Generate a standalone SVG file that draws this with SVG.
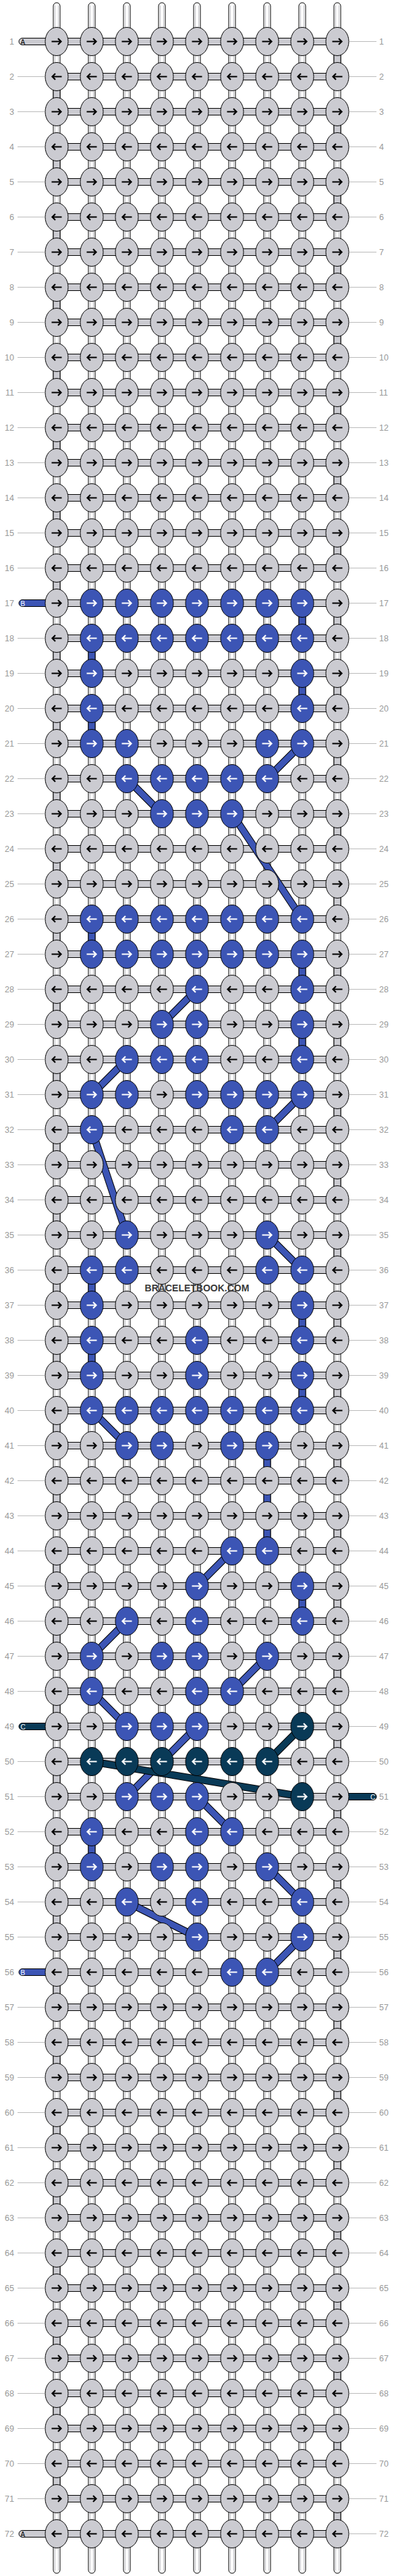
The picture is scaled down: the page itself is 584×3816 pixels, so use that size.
<svg xmlns="http://www.w3.org/2000/svg" xmlns:xlink="http://www.w3.org/1999/xlink" width="584" height="3816" viewBox="0 0 584 3816">
<style>
.g{fill:#cbcbd1;stroke:#000;stroke-width:1}
.b{fill:#3c55b5;stroke:#000;stroke-width:1}
.t{fill:#093a57;stroke:#000;stroke-width:1}
.ak{fill:none;stroke:#000;stroke-width:2.2}
.aw{fill:none;stroke:#fff;stroke-width:2.2}
.bs{fill:#fff;stroke:#000;stroke-width:1}
.bi{fill:none;stroke:#bdbdc2;stroke-width:1}
.hb{fill:#cbcbd1;stroke:#000;stroke-width:1}
.ol{stroke:#000;stroke-width:11;fill:none}
.bl{stroke:#3c55b5;stroke-width:9;fill:none}
.tl{stroke:#093a57;stroke-width:9;fill:none}
.lbl{font-family:"Liberation Sans",Arial,sans-serif;font-size:12.5px;fill:#999}
.le{text-anchor:end}
.ll{stroke:#bbb;stroke-width:1;fill:none}
.sl{font-family:"Liberation Sans",Arial,sans-serif;font-size:10px}
.wm{font-family:"Liberation Sans",Arial,sans-serif;font-size:14px;font-weight:bold;fill:#3a3a3a;text-anchor:middle}
</style>
<defs>
<path id="ar" d="M-7.5,0H6.5M2,-4.5L6.5,0L2,4.5"/>
<path id="al" d="M7.5,0H-6.5M-2,-4.5L-6.5,0L-2,4.5"/>
<g id="gr"><ellipse class="g" rx="17" ry="21"/><use href="#ar" class="ak"/></g>
<g id="gl"><ellipse class="g" rx="17" ry="21"/><use href="#al" class="ak"/></g>
<g id="br"><ellipse class="b" rx="17" ry="21"/><use href="#ar" class="aw"/></g>
<g id="bl"><ellipse class="b" rx="17" ry="21"/><use href="#al" class="aw"/></g>
<g id="tr"><ellipse class="t" rx="17" ry="21"/><use href="#ar" class="aw"/></g>
<g id="tl"><ellipse class="t" rx="17" ry="21"/><use href="#al" class="aw"/></g>
<g id="vs"><path class="bs" d="M-5,9a5,5 0 0 1 10,0V3807a5,5 0 0 1 -10,0Z"/><path class="bi" d="M-2.5,8V3808M2.5,8V3808"/></g>
<path id="bpath" d="M448,893.5V945.5M136,945.5V997.5M448,997.5V1049.5M136,1049.5V1101.5M448,1101.5L396,1153.5M188,1153.5L240,1205.5M344,1205.5L448,1361.5M136,1361.5V1413.5M448,1413.5V1465.5M292,1465.5L240,1517.5M448,1517.5V1569.5M188,1569.5L136,1621.5M448,1621.5L396,1673.5M136,1673.5L188,1829.5M396,1829.5L448,1881.5M136,1881.5V1933.5M448,1933.5V1985.5M136,1985.5V2037.5M448,2037.5V2089.5M136,2089.5L188,2141.5M396,2141.5V2297.5M344,2297.5L292,2349.5M448,2349.5V2401.5M188,2401.5L136,2453.5M396,2453.5L344,2505.5M136,2505.5L188,2557.5M292,2557.5L188,2661.5M292,2661.5L344,2713.5M136,2713.5V2765.5M396,2765.5L448,2817.5M188,2817.5L292,2869.5M448,2869.5L396,2921.5"/>
<path id="cpath" d="M448,2557.5L396,2609.5M136,2609.5L448,2661.5"/>
</defs>
<rect width="584" height="3816" fill="#fff"/>
<g id="connectors">
<g id="base-strings">
<use href="#vs" x="84"/><use href="#vs" x="136"/><use href="#vs" x="188"/><use href="#vs" x="240"/><use href="#vs" x="292"/><use href="#vs" x="344"/><use href="#vs" x="396"/><use href="#vs" x="448"/><use href="#vs" x="500"/>
</g>
<path id="row-bars" class="hb" d="M84,56.5h416v10H84zM84,108.5h416v10H84zM84,160.5h416v10H84zM84,212.5h416v10H84zM84,264.5h416v10H84zM84,316.5h416v10H84zM84,368.5h416v10H84zM84,420.5h416v10H84zM84,472.5h416v10H84zM84,524.5h416v10H84zM84,576.5h416v10H84zM84,628.5h416v10H84zM84,680.5h416v10H84zM84,732.5h416v10H84zM84,784.5h416v10H84zM84,836.5h416v10H84zM84,888.5h416v10H84zM84,940.5h416v10H84zM84,992.5h416v10H84zM84,1044.5h416v10H84zM84,1096.5h416v10H84zM84,1148.5h416v10H84zM84,1200.5h416v10H84zM84,1252.5h416v10H84zM84,1304.5h416v10H84zM84,1356.5h416v10H84zM84,1408.5h416v10H84zM84,1460.5h416v10H84zM84,1512.5h416v10H84zM84,1564.5h416v10H84zM84,1616.5h416v10H84zM84,1668.5h416v10H84zM84,1720.5h416v10H84zM84,1772.5h416v10H84zM84,1824.5h416v10H84zM84,1876.5h416v10H84zM84,1928.5h416v10H84zM84,1980.5h416v10H84zM84,2032.5h416v10H84zM84,2084.5h416v10H84zM84,2136.5h416v10H84zM84,2188.5h416v10H84zM84,2240.5h416v10H84zM84,2292.5h416v10H84zM84,2344.5h416v10H84zM84,2396.5h416v10H84zM84,2448.5h416v10H84zM84,2500.5h416v10H84zM84,2552.5h416v10H84zM84,2604.5h416v10H84zM84,2656.5h416v10H84zM84,2708.5h416v10H84zM84,2760.5h416v10H84zM84,2812.5h416v10H84zM84,2864.5h416v10H84zM84,2916.5h416v10H84zM84,2968.5h416v10H84zM84,3020.5h416v10H84zM84,3072.5h416v10H84zM84,3124.5h416v10H84zM84,3176.5h416v10H84zM84,3228.5h416v10H84zM84,3280.5h416v10H84zM84,3332.5h416v10H84zM84,3384.5h416v10H84zM84,3436.5h416v10H84zM84,3488.5h416v10H84zM84,3540.5h416v10H84zM84,3592.5h416v10H84zM84,3644.5h416v10H84zM84,3696.5h416v10H84zM84,3748.5h416v10H84z"/>
<path id="turns" class="hb" d="M495,61.5h10v52h-10zM79,113.5h10v52h-10zM495,165.5h10v52h-10zM79,217.5h10v52h-10zM495,269.5h10v52h-10zM79,321.5h10v52h-10zM495,373.5h10v52h-10zM79,425.5h10v52h-10zM495,477.5h10v52h-10zM79,529.5h10v52h-10zM495,581.5h10v52h-10zM79,633.5h10v52h-10zM495,685.5h10v52h-10zM79,737.5h10v52h-10zM495,789.5h10v52h-10zM79,841.5h10v52h-10zM495,893.5h10v52h-10zM79,945.5h10v52h-10zM495,997.5h10v52h-10zM79,1049.5h10v52h-10zM495,1101.5h10v52h-10zM79,1153.5h10v52h-10zM495,1205.5h10v52h-10zM79,1257.5h10v52h-10zM495,1309.5h10v52h-10zM79,1361.5h10v52h-10zM495,1413.5h10v52h-10zM79,1465.5h10v52h-10zM495,1517.5h10v52h-10zM79,1569.5h10v52h-10zM495,1621.5h10v52h-10zM79,1673.5h10v52h-10zM495,1725.5h10v52h-10zM79,1777.5h10v52h-10zM495,1829.5h10v52h-10zM79,1881.5h10v52h-10zM495,1933.5h10v52h-10zM79,1985.5h10v52h-10zM495,2037.5h10v52h-10zM79,2089.5h10v52h-10zM495,2141.5h10v52h-10zM79,2193.5h10v52h-10zM495,2245.5h10v52h-10zM79,2297.5h10v52h-10zM495,2349.5h10v52h-10zM79,2401.5h10v52h-10zM495,2453.5h10v52h-10zM79,2505.5h10v52h-10zM495,2557.5h10v52h-10zM79,2609.5h10v52h-10zM495,2661.5h10v52h-10zM79,2713.5h10v52h-10zM495,2765.5h10v52h-10zM79,2817.5h10v52h-10zM495,2869.5h10v52h-10zM79,2921.5h10v52h-10zM495,2973.5h10v52h-10zM79,3025.5h10v52h-10zM495,3077.5h10v52h-10zM79,3129.5h10v52h-10zM495,3181.5h10v52h-10zM79,3233.5h10v52h-10zM495,3285.5h10v52h-10zM79,3337.5h10v52h-10zM495,3389.5h10v52h-10zM79,3441.5h10v52h-10zM495,3493.5h10v52h-10zM79,3545.5h10v52h-10zM495,3597.5h10v52h-10zM79,3649.5h10v52h-10zM495,3701.5h10v52h-10z"/>
<g id="string-b">
<use href="#bpath" class="ol"/>
<use href="#bpath" class="bl"/>
</g>
<g id="string-c">
<use href="#cpath" class="ol"/>
<use href="#cpath" class="tl"/>
</g>
<g id="stubs">
<path class="hb" d="M72,56.5H33a5,5 0 0 0 0,10H72z"/><text class="sl" x="30.5" y="65.5" fill="#000">A</text>
<path class="hb" d="M72,3748.5H33a5,5 0 0 0 0,10H72z"/><text class="sl" x="30.5" y="3757.5" fill="#000">A</text>
<path class="b" d="M72,888.5H33a5,5 0 0 0 0,10H72z"/><text class="sl" x="30.5" y="897.5" fill="#fff">B</text>
<path class="b" d="M72,2916.5H33a5,5 0 0 0 0,10H72z"/><text class="sl" x="30.5" y="2925.5" fill="#fff">B</text>
<path class="t" d="M72,2552.5H33a5,5 0 0 0 0,10H72z"/><text class="sl" x="30.5" y="2561.5" fill="#fff">C</text>
<path class="t" d="M512,2656.5H553a5,5 0 0 1 0,10H512z"/><text class="sl" x="549" y="2665.5" fill="#fff">C</text>
</g>
</g>
<g id="nodes">
<g id="r1" transform="translate(0 61.5)"><g id="n1-1"><use href="#gr" x="84"/></g><g id="n1-2"><use href="#gr" x="136"/></g><g id="n1-3"><use href="#gr" x="188"/></g><g id="n1-4"><use href="#gr" x="240"/></g><g id="n1-5"><use href="#gr" x="292"/></g><g id="n1-6"><use href="#gr" x="344"/></g><g id="n1-7"><use href="#gr" x="396"/></g><g id="n1-8"><use href="#gr" x="448"/></g><g id="n1-9"><use href="#gr" x="500"/></g></g>
<g id="r2" transform="translate(0 113.5)"><g id="n2-1"><use href="#gl" x="84"/></g><g id="n2-2"><use href="#gl" x="136"/></g><g id="n2-3"><use href="#gl" x="188"/></g><g id="n2-4"><use href="#gl" x="240"/></g><g id="n2-5"><use href="#gl" x="292"/></g><g id="n2-6"><use href="#gl" x="344"/></g><g id="n2-7"><use href="#gl" x="396"/></g><g id="n2-8"><use href="#gl" x="448"/></g><g id="n2-9"><use href="#gl" x="500"/></g></g>
<g id="r3" transform="translate(0 165.5)"><g id="n3-1"><use href="#gr" x="84"/></g><g id="n3-2"><use href="#gr" x="136"/></g><g id="n3-3"><use href="#gr" x="188"/></g><g id="n3-4"><use href="#gr" x="240"/></g><g id="n3-5"><use href="#gr" x="292"/></g><g id="n3-6"><use href="#gr" x="344"/></g><g id="n3-7"><use href="#gr" x="396"/></g><g id="n3-8"><use href="#gr" x="448"/></g><g id="n3-9"><use href="#gr" x="500"/></g></g>
<g id="r4" transform="translate(0 217.5)"><g id="n4-1"><use href="#gl" x="84"/></g><g id="n4-2"><use href="#gl" x="136"/></g><g id="n4-3"><use href="#gl" x="188"/></g><g id="n4-4"><use href="#gl" x="240"/></g><g id="n4-5"><use href="#gl" x="292"/></g><g id="n4-6"><use href="#gl" x="344"/></g><g id="n4-7"><use href="#gl" x="396"/></g><g id="n4-8"><use href="#gl" x="448"/></g><g id="n4-9"><use href="#gl" x="500"/></g></g>
<g id="r5" transform="translate(0 269.5)"><g id="n5-1"><use href="#gr" x="84"/></g><g id="n5-2"><use href="#gr" x="136"/></g><g id="n5-3"><use href="#gr" x="188"/></g><g id="n5-4"><use href="#gr" x="240"/></g><g id="n5-5"><use href="#gr" x="292"/></g><g id="n5-6"><use href="#gr" x="344"/></g><g id="n5-7"><use href="#gr" x="396"/></g><g id="n5-8"><use href="#gr" x="448"/></g><g id="n5-9"><use href="#gr" x="500"/></g></g>
<g id="r6" transform="translate(0 321.5)"><g id="n6-1"><use href="#gl" x="84"/></g><g id="n6-2"><use href="#gl" x="136"/></g><g id="n6-3"><use href="#gl" x="188"/></g><g id="n6-4"><use href="#gl" x="240"/></g><g id="n6-5"><use href="#gl" x="292"/></g><g id="n6-6"><use href="#gl" x="344"/></g><g id="n6-7"><use href="#gl" x="396"/></g><g id="n6-8"><use href="#gl" x="448"/></g><g id="n6-9"><use href="#gl" x="500"/></g></g>
<g id="r7" transform="translate(0 373.5)"><g id="n7-1"><use href="#gr" x="84"/></g><g id="n7-2"><use href="#gr" x="136"/></g><g id="n7-3"><use href="#gr" x="188"/></g><g id="n7-4"><use href="#gr" x="240"/></g><g id="n7-5"><use href="#gr" x="292"/></g><g id="n7-6"><use href="#gr" x="344"/></g><g id="n7-7"><use href="#gr" x="396"/></g><g id="n7-8"><use href="#gr" x="448"/></g><g id="n7-9"><use href="#gr" x="500"/></g></g>
<g id="r8" transform="translate(0 425.5)"><g id="n8-1"><use href="#gl" x="84"/></g><g id="n8-2"><use href="#gl" x="136"/></g><g id="n8-3"><use href="#gl" x="188"/></g><g id="n8-4"><use href="#gl" x="240"/></g><g id="n8-5"><use href="#gl" x="292"/></g><g id="n8-6"><use href="#gl" x="344"/></g><g id="n8-7"><use href="#gl" x="396"/></g><g id="n8-8"><use href="#gl" x="448"/></g><g id="n8-9"><use href="#gl" x="500"/></g></g>
<g id="r9" transform="translate(0 477.5)"><g id="n9-1"><use href="#gr" x="84"/></g><g id="n9-2"><use href="#gr" x="136"/></g><g id="n9-3"><use href="#gr" x="188"/></g><g id="n9-4"><use href="#gr" x="240"/></g><g id="n9-5"><use href="#gr" x="292"/></g><g id="n9-6"><use href="#gr" x="344"/></g><g id="n9-7"><use href="#gr" x="396"/></g><g id="n9-8"><use href="#gr" x="448"/></g><g id="n9-9"><use href="#gr" x="500"/></g></g>
<g id="r10" transform="translate(0 529.5)"><g id="n10-1"><use href="#gl" x="84"/></g><g id="n10-2"><use href="#gl" x="136"/></g><g id="n10-3"><use href="#gl" x="188"/></g><g id="n10-4"><use href="#gl" x="240"/></g><g id="n10-5"><use href="#gl" x="292"/></g><g id="n10-6"><use href="#gl" x="344"/></g><g id="n10-7"><use href="#gl" x="396"/></g><g id="n10-8"><use href="#gl" x="448"/></g><g id="n10-9"><use href="#gl" x="500"/></g></g>
<g id="r11" transform="translate(0 581.5)"><g id="n11-1"><use href="#gr" x="84"/></g><g id="n11-2"><use href="#gr" x="136"/></g><g id="n11-3"><use href="#gr" x="188"/></g><g id="n11-4"><use href="#gr" x="240"/></g><g id="n11-5"><use href="#gr" x="292"/></g><g id="n11-6"><use href="#gr" x="344"/></g><g id="n11-7"><use href="#gr" x="396"/></g><g id="n11-8"><use href="#gr" x="448"/></g><g id="n11-9"><use href="#gr" x="500"/></g></g>
<g id="r12" transform="translate(0 633.5)"><g id="n12-1"><use href="#gl" x="84"/></g><g id="n12-2"><use href="#gl" x="136"/></g><g id="n12-3"><use href="#gl" x="188"/></g><g id="n12-4"><use href="#gl" x="240"/></g><g id="n12-5"><use href="#gl" x="292"/></g><g id="n12-6"><use href="#gl" x="344"/></g><g id="n12-7"><use href="#gl" x="396"/></g><g id="n12-8"><use href="#gl" x="448"/></g><g id="n12-9"><use href="#gl" x="500"/></g></g>
<g id="r13" transform="translate(0 685.5)"><g id="n13-1"><use href="#gr" x="84"/></g><g id="n13-2"><use href="#gr" x="136"/></g><g id="n13-3"><use href="#gr" x="188"/></g><g id="n13-4"><use href="#gr" x="240"/></g><g id="n13-5"><use href="#gr" x="292"/></g><g id="n13-6"><use href="#gr" x="344"/></g><g id="n13-7"><use href="#gr" x="396"/></g><g id="n13-8"><use href="#gr" x="448"/></g><g id="n13-9"><use href="#gr" x="500"/></g></g>
<g id="r14" transform="translate(0 737.5)"><g id="n14-1"><use href="#gl" x="84"/></g><g id="n14-2"><use href="#gl" x="136"/></g><g id="n14-3"><use href="#gl" x="188"/></g><g id="n14-4"><use href="#gl" x="240"/></g><g id="n14-5"><use href="#gl" x="292"/></g><g id="n14-6"><use href="#gl" x="344"/></g><g id="n14-7"><use href="#gl" x="396"/></g><g id="n14-8"><use href="#gl" x="448"/></g><g id="n14-9"><use href="#gl" x="500"/></g></g>
<g id="r15" transform="translate(0 789.5)"><g id="n15-1"><use href="#gr" x="84"/></g><g id="n15-2"><use href="#gr" x="136"/></g><g id="n15-3"><use href="#gr" x="188"/></g><g id="n15-4"><use href="#gr" x="240"/></g><g id="n15-5"><use href="#gr" x="292"/></g><g id="n15-6"><use href="#gr" x="344"/></g><g id="n15-7"><use href="#gr" x="396"/></g><g id="n15-8"><use href="#gr" x="448"/></g><g id="n15-9"><use href="#gr" x="500"/></g></g>
<g id="r16" transform="translate(0 841.5)"><g id="n16-1"><use href="#gl" x="84"/></g><g id="n16-2"><use href="#gl" x="136"/></g><g id="n16-3"><use href="#gl" x="188"/></g><g id="n16-4"><use href="#gl" x="240"/></g><g id="n16-5"><use href="#gl" x="292"/></g><g id="n16-6"><use href="#gl" x="344"/></g><g id="n16-7"><use href="#gl" x="396"/></g><g id="n16-8"><use href="#gl" x="448"/></g><g id="n16-9"><use href="#gl" x="500"/></g></g>
<g id="r17" transform="translate(0 893.5)"><g id="n17-1"><use href="#gr" x="84"/></g><g id="n17-2"><use href="#br" x="136"/></g><g id="n17-3"><use href="#br" x="188"/></g><g id="n17-4"><use href="#br" x="240"/></g><g id="n17-5"><use href="#br" x="292"/></g><g id="n17-6"><use href="#br" x="344"/></g><g id="n17-7"><use href="#br" x="396"/></g><g id="n17-8"><use href="#br" x="448"/></g><g id="n17-9"><use href="#gr" x="500"/></g></g>
<g id="r18" transform="translate(0 945.5)"><g id="n18-1"><use href="#gl" x="84"/></g><g id="n18-2"><use href="#bl" x="136"/></g><g id="n18-3"><use href="#bl" x="188"/></g><g id="n18-4"><use href="#bl" x="240"/></g><g id="n18-5"><use href="#bl" x="292"/></g><g id="n18-6"><use href="#bl" x="344"/></g><g id="n18-7"><use href="#bl" x="396"/></g><g id="n18-8"><use href="#bl" x="448"/></g><g id="n18-9"><use href="#gl" x="500"/></g></g>
<g id="r19" transform="translate(0 997.5)"><g id="n19-1"><use href="#gr" x="84"/></g><g id="n19-2"><use href="#br" x="136"/></g><g id="n19-3"><use href="#gr" x="188"/></g><g id="n19-4"><use href="#gr" x="240"/></g><g id="n19-5"><use href="#gr" x="292"/></g><g id="n19-6"><use href="#gr" x="344"/></g><g id="n19-7"><use href="#gr" x="396"/></g><g id="n19-8"><use href="#br" x="448"/></g><g id="n19-9"><use href="#gr" x="500"/></g></g>
<g id="r20" transform="translate(0 1049.5)"><g id="n20-1"><use href="#gl" x="84"/></g><g id="n20-2"><use href="#bl" x="136"/></g><g id="n20-3"><use href="#gl" x="188"/></g><g id="n20-4"><use href="#gl" x="240"/></g><g id="n20-5"><use href="#gl" x="292"/></g><g id="n20-6"><use href="#gl" x="344"/></g><g id="n20-7"><use href="#gl" x="396"/></g><g id="n20-8"><use href="#bl" x="448"/></g><g id="n20-9"><use href="#gl" x="500"/></g></g>
<g id="r21" transform="translate(0 1101.5)"><g id="n21-1"><use href="#gr" x="84"/></g><g id="n21-2"><use href="#br" x="136"/></g><g id="n21-3"><use href="#br" x="188"/></g><g id="n21-4"><use href="#gr" x="240"/></g><g id="n21-5"><use href="#gr" x="292"/></g><g id="n21-6"><use href="#gr" x="344"/></g><g id="n21-7"><use href="#br" x="396"/></g><g id="n21-8"><use href="#br" x="448"/></g><g id="n21-9"><use href="#gr" x="500"/></g></g>
<g id="r22" transform="translate(0 1153.5)"><g id="n22-1"><use href="#gl" x="84"/></g><g id="n22-2"><use href="#gl" x="136"/></g><g id="n22-3"><use href="#bl" x="188"/></g><g id="n22-4"><use href="#bl" x="240"/></g><g id="n22-5"><use href="#bl" x="292"/></g><g id="n22-6"><use href="#bl" x="344"/></g><g id="n22-7"><use href="#bl" x="396"/></g><g id="n22-8"><use href="#gl" x="448"/></g><g id="n22-9"><use href="#gl" x="500"/></g></g>
<g id="r23" transform="translate(0 1205.5)"><g id="n23-1"><use href="#gr" x="84"/></g><g id="n23-2"><use href="#gr" x="136"/></g><g id="n23-3"><use href="#gr" x="188"/></g><g id="n23-4"><use href="#br" x="240"/></g><g id="n23-5"><use href="#br" x="292"/></g><g id="n23-6"><use href="#br" x="344"/></g><g id="n23-7"><use href="#gr" x="396"/></g><g id="n23-8"><use href="#gr" x="448"/></g><g id="n23-9"><use href="#gr" x="500"/></g></g>
<g id="r24" transform="translate(0 1257.5)"><g id="n24-1"><use href="#gl" x="84"/></g><g id="n24-2"><use href="#gl" x="136"/></g><g id="n24-3"><use href="#gl" x="188"/></g><g id="n24-4"><use href="#gl" x="240"/></g><g id="n24-5"><use href="#gl" x="292"/></g><g id="n24-6"><use href="#gl" x="344"/></g><g id="n24-7"><use href="#gl" x="396"/></g><g id="n24-8"><use href="#gl" x="448"/></g><g id="n24-9"><use href="#gl" x="500"/></g></g>
<g id="r25" transform="translate(0 1309.5)"><g id="n25-1"><use href="#gr" x="84"/></g><g id="n25-2"><use href="#gr" x="136"/></g><g id="n25-3"><use href="#gr" x="188"/></g><g id="n25-4"><use href="#gr" x="240"/></g><g id="n25-5"><use href="#gr" x="292"/></g><g id="n25-6"><use href="#gr" x="344"/></g><g id="n25-7"><use href="#gr" x="396"/></g><g id="n25-8"><use href="#gr" x="448"/></g><g id="n25-9"><use href="#gr" x="500"/></g></g>
<g id="r26" transform="translate(0 1361.5)"><g id="n26-1"><use href="#gl" x="84"/></g><g id="n26-2"><use href="#bl" x="136"/></g><g id="n26-3"><use href="#bl" x="188"/></g><g id="n26-4"><use href="#bl" x="240"/></g><g id="n26-5"><use href="#bl" x="292"/></g><g id="n26-6"><use href="#bl" x="344"/></g><g id="n26-7"><use href="#bl" x="396"/></g><g id="n26-8"><use href="#bl" x="448"/></g><g id="n26-9"><use href="#gl" x="500"/></g></g>
<g id="r27" transform="translate(0 1413.5)"><g id="n27-1"><use href="#gr" x="84"/></g><g id="n27-2"><use href="#br" x="136"/></g><g id="n27-3"><use href="#br" x="188"/></g><g id="n27-4"><use href="#br" x="240"/></g><g id="n27-5"><use href="#br" x="292"/></g><g id="n27-6"><use href="#br" x="344"/></g><g id="n27-7"><use href="#br" x="396"/></g><g id="n27-8"><use href="#br" x="448"/></g><g id="n27-9"><use href="#gr" x="500"/></g></g>
<g id="r28" transform="translate(0 1465.5)"><g id="n28-1"><use href="#gl" x="84"/></g><g id="n28-2"><use href="#gl" x="136"/></g><g id="n28-3"><use href="#gl" x="188"/></g><g id="n28-4"><use href="#gl" x="240"/></g><g id="n28-5"><use href="#bl" x="292"/></g><g id="n28-6"><use href="#gl" x="344"/></g><g id="n28-7"><use href="#gl" x="396"/></g><g id="n28-8"><use href="#bl" x="448"/></g><g id="n28-9"><use href="#gl" x="500"/></g></g>
<g id="r29" transform="translate(0 1517.5)"><g id="n29-1"><use href="#gr" x="84"/></g><g id="n29-2"><use href="#gr" x="136"/></g><g id="n29-3"><use href="#gr" x="188"/></g><g id="n29-4"><use href="#br" x="240"/></g><g id="n29-5"><use href="#br" x="292"/></g><g id="n29-6"><use href="#gr" x="344"/></g><g id="n29-7"><use href="#gr" x="396"/></g><g id="n29-8"><use href="#br" x="448"/></g><g id="n29-9"><use href="#gr" x="500"/></g></g>
<g id="r30" transform="translate(0 1569.5)"><g id="n30-1"><use href="#gl" x="84"/></g><g id="n30-2"><use href="#gl" x="136"/></g><g id="n30-3"><use href="#bl" x="188"/></g><g id="n30-4"><use href="#bl" x="240"/></g><g id="n30-5"><use href="#bl" x="292"/></g><g id="n30-6"><use href="#gl" x="344"/></g><g id="n30-7"><use href="#gl" x="396"/></g><g id="n30-8"><use href="#bl" x="448"/></g><g id="n30-9"><use href="#gl" x="500"/></g></g>
<g id="r31" transform="translate(0 1621.5)"><g id="n31-1"><use href="#gr" x="84"/></g><g id="n31-2"><use href="#br" x="136"/></g><g id="n31-3"><use href="#br" x="188"/></g><g id="n31-4"><use href="#gr" x="240"/></g><g id="n31-5"><use href="#br" x="292"/></g><g id="n31-6"><use href="#br" x="344"/></g><g id="n31-7"><use href="#br" x="396"/></g><g id="n31-8"><use href="#br" x="448"/></g><g id="n31-9"><use href="#gr" x="500"/></g></g>
<g id="r32" transform="translate(0 1673.5)"><g id="n32-1"><use href="#gl" x="84"/></g><g id="n32-2"><use href="#bl" x="136"/></g><g id="n32-3"><use href="#gl" x="188"/></g><g id="n32-4"><use href="#gl" x="240"/></g><g id="n32-5"><use href="#gl" x="292"/></g><g id="n32-6"><use href="#bl" x="344"/></g><g id="n32-7"><use href="#bl" x="396"/></g><g id="n32-8"><use href="#gl" x="448"/></g><g id="n32-9"><use href="#gl" x="500"/></g></g>
<g id="r33" transform="translate(0 1725.5)"><g id="n33-1"><use href="#gr" x="84"/></g><g id="n33-2"><use href="#gr" x="136"/></g><g id="n33-3"><use href="#gr" x="188"/></g><g id="n33-4"><use href="#gr" x="240"/></g><g id="n33-5"><use href="#gr" x="292"/></g><g id="n33-6"><use href="#gr" x="344"/></g><g id="n33-7"><use href="#gr" x="396"/></g><g id="n33-8"><use href="#gr" x="448"/></g><g id="n33-9"><use href="#gr" x="500"/></g></g>
<g id="r34" transform="translate(0 1777.5)"><g id="n34-1"><use href="#gl" x="84"/></g><g id="n34-2"><use href="#gl" x="136"/></g><g id="n34-3"><use href="#gl" x="188"/></g><g id="n34-4"><use href="#gl" x="240"/></g><g id="n34-5"><use href="#gl" x="292"/></g><g id="n34-6"><use href="#gl" x="344"/></g><g id="n34-7"><use href="#gl" x="396"/></g><g id="n34-8"><use href="#gl" x="448"/></g><g id="n34-9"><use href="#gl" x="500"/></g></g>
<g id="r35" transform="translate(0 1829.5)"><g id="n35-1"><use href="#gr" x="84"/></g><g id="n35-2"><use href="#gr" x="136"/></g><g id="n35-3"><use href="#br" x="188"/></g><g id="n35-4"><use href="#gr" x="240"/></g><g id="n35-5"><use href="#gr" x="292"/></g><g id="n35-6"><use href="#gr" x="344"/></g><g id="n35-7"><use href="#br" x="396"/></g><g id="n35-8"><use href="#gr" x="448"/></g><g id="n35-9"><use href="#gr" x="500"/></g></g>
<g id="r36" transform="translate(0 1881.5)"><g id="n36-1"><use href="#gl" x="84"/></g><g id="n36-2"><use href="#bl" x="136"/></g><g id="n36-3"><use href="#bl" x="188"/></g><g id="n36-4"><use href="#gl" x="240"/></g><g id="n36-5"><use href="#gl" x="292"/></g><g id="n36-6"><use href="#gl" x="344"/></g><g id="n36-7"><use href="#bl" x="396"/></g><g id="n36-8"><use href="#bl" x="448"/></g><g id="n36-9"><use href="#gl" x="500"/></g></g>
<g id="r37" transform="translate(0 1933.5)"><g id="n37-1"><use href="#gr" x="84"/></g><g id="n37-2"><use href="#br" x="136"/></g><g id="n37-3"><use href="#gr" x="188"/></g><g id="n37-4"><use href="#gr" x="240"/></g><g id="n37-5"><use href="#gr" x="292"/></g><g id="n37-6"><use href="#gr" x="344"/></g><g id="n37-7"><use href="#gr" x="396"/></g><g id="n37-8"><use href="#br" x="448"/></g><g id="n37-9"><use href="#gr" x="500"/></g></g>
<g id="r38" transform="translate(0 1985.5)"><g id="n38-1"><use href="#gl" x="84"/></g><g id="n38-2"><use href="#bl" x="136"/></g><g id="n38-3"><use href="#gl" x="188"/></g><g id="n38-4"><use href="#gl" x="240"/></g><g id="n38-5"><use href="#bl" x="292"/></g><g id="n38-6"><use href="#gl" x="344"/></g><g id="n38-7"><use href="#gl" x="396"/></g><g id="n38-8"><use href="#bl" x="448"/></g><g id="n38-9"><use href="#gl" x="500"/></g></g>
<g id="r39" transform="translate(0 2037.5)"><g id="n39-1"><use href="#gr" x="84"/></g><g id="n39-2"><use href="#br" x="136"/></g><g id="n39-3"><use href="#gr" x="188"/></g><g id="n39-4"><use href="#gr" x="240"/></g><g id="n39-5"><use href="#br" x="292"/></g><g id="n39-6"><use href="#gr" x="344"/></g><g id="n39-7"><use href="#gr" x="396"/></g><g id="n39-8"><use href="#br" x="448"/></g><g id="n39-9"><use href="#gr" x="500"/></g></g>
<g id="r40" transform="translate(0 2089.5)"><g id="n40-1"><use href="#gl" x="84"/></g><g id="n40-2"><use href="#bl" x="136"/></g><g id="n40-3"><use href="#bl" x="188"/></g><g id="n40-4"><use href="#bl" x="240"/></g><g id="n40-5"><use href="#bl" x="292"/></g><g id="n40-6"><use href="#bl" x="344"/></g><g id="n40-7"><use href="#bl" x="396"/></g><g id="n40-8"><use href="#bl" x="448"/></g><g id="n40-9"><use href="#gl" x="500"/></g></g>
<g id="r41" transform="translate(0 2141.5)"><g id="n41-1"><use href="#gr" x="84"/></g><g id="n41-2"><use href="#gr" x="136"/></g><g id="n41-3"><use href="#br" x="188"/></g><g id="n41-4"><use href="#br" x="240"/></g><g id="n41-5"><use href="#gr" x="292"/></g><g id="n41-6"><use href="#br" x="344"/></g><g id="n41-7"><use href="#br" x="396"/></g><g id="n41-8"><use href="#gr" x="448"/></g><g id="n41-9"><use href="#gr" x="500"/></g></g>
<g id="r42" transform="translate(0 2193.5)"><g id="n42-1"><use href="#gl" x="84"/></g><g id="n42-2"><use href="#gl" x="136"/></g><g id="n42-3"><use href="#gl" x="188"/></g><g id="n42-4"><use href="#gl" x="240"/></g><g id="n42-5"><use href="#gl" x="292"/></g><g id="n42-6"><use href="#gl" x="344"/></g><g id="n42-7"><use href="#gl" x="396"/></g><g id="n42-8"><use href="#gl" x="448"/></g><g id="n42-9"><use href="#gl" x="500"/></g></g>
<g id="r43" transform="translate(0 2245.5)"><g id="n43-1"><use href="#gr" x="84"/></g><g id="n43-2"><use href="#gr" x="136"/></g><g id="n43-3"><use href="#gr" x="188"/></g><g id="n43-4"><use href="#gr" x="240"/></g><g id="n43-5"><use href="#gr" x="292"/></g><g id="n43-6"><use href="#gr" x="344"/></g><g id="n43-7"><use href="#gr" x="396"/></g><g id="n43-8"><use href="#gr" x="448"/></g><g id="n43-9"><use href="#gr" x="500"/></g></g>
<g id="r44" transform="translate(0 2297.5)"><g id="n44-1"><use href="#gl" x="84"/></g><g id="n44-2"><use href="#gl" x="136"/></g><g id="n44-3"><use href="#gl" x="188"/></g><g id="n44-4"><use href="#gl" x="240"/></g><g id="n44-5"><use href="#gl" x="292"/></g><g id="n44-6"><use href="#bl" x="344"/></g><g id="n44-7"><use href="#bl" x="396"/></g><g id="n44-8"><use href="#gl" x="448"/></g><g id="n44-9"><use href="#gl" x="500"/></g></g>
<g id="r45" transform="translate(0 2349.5)"><g id="n45-1"><use href="#gr" x="84"/></g><g id="n45-2"><use href="#gr" x="136"/></g><g id="n45-3"><use href="#gr" x="188"/></g><g id="n45-4"><use href="#gr" x="240"/></g><g id="n45-5"><use href="#br" x="292"/></g><g id="n45-6"><use href="#gr" x="344"/></g><g id="n45-7"><use href="#gr" x="396"/></g><g id="n45-8"><use href="#br" x="448"/></g><g id="n45-9"><use href="#gr" x="500"/></g></g>
<g id="r46" transform="translate(0 2401.5)"><g id="n46-1"><use href="#gl" x="84"/></g><g id="n46-2"><use href="#gl" x="136"/></g><g id="n46-3"><use href="#bl" x="188"/></g><g id="n46-4"><use href="#gl" x="240"/></g><g id="n46-5"><use href="#bl" x="292"/></g><g id="n46-6"><use href="#gl" x="344"/></g><g id="n46-7"><use href="#gl" x="396"/></g><g id="n46-8"><use href="#bl" x="448"/></g><g id="n46-9"><use href="#gl" x="500"/></g></g>
<g id="r47" transform="translate(0 2453.5)"><g id="n47-1"><use href="#gr" x="84"/></g><g id="n47-2"><use href="#br" x="136"/></g><g id="n47-3"><use href="#gr" x="188"/></g><g id="n47-4"><use href="#br" x="240"/></g><g id="n47-5"><use href="#br" x="292"/></g><g id="n47-6"><use href="#gr" x="344"/></g><g id="n47-7"><use href="#br" x="396"/></g><g id="n47-8"><use href="#gr" x="448"/></g><g id="n47-9"><use href="#gr" x="500"/></g></g>
<g id="r48" transform="translate(0 2505.5)"><g id="n48-1"><use href="#gl" x="84"/></g><g id="n48-2"><use href="#bl" x="136"/></g><g id="n48-3"><use href="#gl" x="188"/></g><g id="n48-4"><use href="#gl" x="240"/></g><g id="n48-5"><use href="#bl" x="292"/></g><g id="n48-6"><use href="#bl" x="344"/></g><g id="n48-7"><use href="#gl" x="396"/></g><g id="n48-8"><use href="#gl" x="448"/></g><g id="n48-9"><use href="#gl" x="500"/></g></g>
<g id="r49" transform="translate(0 2557.5)"><g id="n49-1"><use href="#gr" x="84"/></g><g id="n49-2"><use href="#gr" x="136"/></g><g id="n49-3"><use href="#br" x="188"/></g><g id="n49-4"><use href="#br" x="240"/></g><g id="n49-5"><use href="#br" x="292"/></g><g id="n49-6"><use href="#gr" x="344"/></g><g id="n49-7"><use href="#gr" x="396"/></g><g id="n49-8"><use href="#tr" x="448"/></g><g id="n49-9"><use href="#gr" x="500"/></g></g>
<g id="r50" transform="translate(0 2609.5)"><g id="n50-1"><use href="#gl" x="84"/></g><g id="n50-2"><use href="#tl" x="136"/></g><g id="n50-3"><use href="#tl" x="188"/></g><g id="n50-4"><use href="#tl" x="240"/></g><g id="n50-5"><use href="#tl" x="292"/></g><g id="n50-6"><use href="#tl" x="344"/></g><g id="n50-7"><use href="#tl" x="396"/></g><g id="n50-8"><use href="#gl" x="448"/></g><g id="n50-9"><use href="#gl" x="500"/></g></g>
<g id="r51" transform="translate(0 2661.5)"><g id="n51-1"><use href="#gr" x="84"/></g><g id="n51-2"><use href="#gr" x="136"/></g><g id="n51-3"><use href="#br" x="188"/></g><g id="n51-4"><use href="#br" x="240"/></g><g id="n51-5"><use href="#br" x="292"/></g><g id="n51-6"><use href="#gr" x="344"/></g><g id="n51-7"><use href="#gr" x="396"/></g><g id="n51-8"><use href="#tr" x="448"/></g><g id="n51-9"><use href="#gr" x="500"/></g></g>
<g id="r52" transform="translate(0 2713.5)"><g id="n52-1"><use href="#gl" x="84"/></g><g id="n52-2"><use href="#bl" x="136"/></g><g id="n52-3"><use href="#gl" x="188"/></g><g id="n52-4"><use href="#gl" x="240"/></g><g id="n52-5"><use href="#bl" x="292"/></g><g id="n52-6"><use href="#bl" x="344"/></g><g id="n52-7"><use href="#gl" x="396"/></g><g id="n52-8"><use href="#gl" x="448"/></g><g id="n52-9"><use href="#gl" x="500"/></g></g>
<g id="r53" transform="translate(0 2765.5)"><g id="n53-1"><use href="#gr" x="84"/></g><g id="n53-2"><use href="#br" x="136"/></g><g id="n53-3"><use href="#gr" x="188"/></g><g id="n53-4"><use href="#br" x="240"/></g><g id="n53-5"><use href="#br" x="292"/></g><g id="n53-6"><use href="#gr" x="344"/></g><g id="n53-7"><use href="#br" x="396"/></g><g id="n53-8"><use href="#gr" x="448"/></g><g id="n53-9"><use href="#gr" x="500"/></g></g>
<g id="r54" transform="translate(0 2817.5)"><g id="n54-1"><use href="#gl" x="84"/></g><g id="n54-2"><use href="#gl" x="136"/></g><g id="n54-3"><use href="#bl" x="188"/></g><g id="n54-4"><use href="#gl" x="240"/></g><g id="n54-5"><use href="#bl" x="292"/></g><g id="n54-6"><use href="#gl" x="344"/></g><g id="n54-7"><use href="#gl" x="396"/></g><g id="n54-8"><use href="#bl" x="448"/></g><g id="n54-9"><use href="#gl" x="500"/></g></g>
<g id="r55" transform="translate(0 2869.5)"><g id="n55-1"><use href="#gr" x="84"/></g><g id="n55-2"><use href="#gr" x="136"/></g><g id="n55-3"><use href="#gr" x="188"/></g><g id="n55-4"><use href="#gr" x="240"/></g><g id="n55-5"><use href="#br" x="292"/></g><g id="n55-6"><use href="#gr" x="344"/></g><g id="n55-7"><use href="#gr" x="396"/></g><g id="n55-8"><use href="#br" x="448"/></g><g id="n55-9"><use href="#gr" x="500"/></g></g>
<g id="r56" transform="translate(0 2921.5)"><g id="n56-1"><use href="#gl" x="84"/></g><g id="n56-2"><use href="#gl" x="136"/></g><g id="n56-3"><use href="#gl" x="188"/></g><g id="n56-4"><use href="#gl" x="240"/></g><g id="n56-5"><use href="#gl" x="292"/></g><g id="n56-6"><use href="#bl" x="344"/></g><g id="n56-7"><use href="#bl" x="396"/></g><g id="n56-8"><use href="#gl" x="448"/></g><g id="n56-9"><use href="#gl" x="500"/></g></g>
<g id="r57" transform="translate(0 2973.5)"><g id="n57-1"><use href="#gr" x="84"/></g><g id="n57-2"><use href="#gr" x="136"/></g><g id="n57-3"><use href="#gr" x="188"/></g><g id="n57-4"><use href="#gr" x="240"/></g><g id="n57-5"><use href="#gr" x="292"/></g><g id="n57-6"><use href="#gr" x="344"/></g><g id="n57-7"><use href="#gr" x="396"/></g><g id="n57-8"><use href="#gr" x="448"/></g><g id="n57-9"><use href="#gr" x="500"/></g></g>
<g id="r58" transform="translate(0 3025.5)"><g id="n58-1"><use href="#gl" x="84"/></g><g id="n58-2"><use href="#gl" x="136"/></g><g id="n58-3"><use href="#gl" x="188"/></g><g id="n58-4"><use href="#gl" x="240"/></g><g id="n58-5"><use href="#gl" x="292"/></g><g id="n58-6"><use href="#gl" x="344"/></g><g id="n58-7"><use href="#gl" x="396"/></g><g id="n58-8"><use href="#gl" x="448"/></g><g id="n58-9"><use href="#gl" x="500"/></g></g>
<g id="r59" transform="translate(0 3077.5)"><g id="n59-1"><use href="#gr" x="84"/></g><g id="n59-2"><use href="#gr" x="136"/></g><g id="n59-3"><use href="#gr" x="188"/></g><g id="n59-4"><use href="#gr" x="240"/></g><g id="n59-5"><use href="#gr" x="292"/></g><g id="n59-6"><use href="#gr" x="344"/></g><g id="n59-7"><use href="#gr" x="396"/></g><g id="n59-8"><use href="#gr" x="448"/></g><g id="n59-9"><use href="#gr" x="500"/></g></g>
<g id="r60" transform="translate(0 3129.5)"><g id="n60-1"><use href="#gl" x="84"/></g><g id="n60-2"><use href="#gl" x="136"/></g><g id="n60-3"><use href="#gl" x="188"/></g><g id="n60-4"><use href="#gl" x="240"/></g><g id="n60-5"><use href="#gl" x="292"/></g><g id="n60-6"><use href="#gl" x="344"/></g><g id="n60-7"><use href="#gl" x="396"/></g><g id="n60-8"><use href="#gl" x="448"/></g><g id="n60-9"><use href="#gl" x="500"/></g></g>
<g id="r61" transform="translate(0 3181.5)"><g id="n61-1"><use href="#gr" x="84"/></g><g id="n61-2"><use href="#gr" x="136"/></g><g id="n61-3"><use href="#gr" x="188"/></g><g id="n61-4"><use href="#gr" x="240"/></g><g id="n61-5"><use href="#gr" x="292"/></g><g id="n61-6"><use href="#gr" x="344"/></g><g id="n61-7"><use href="#gr" x="396"/></g><g id="n61-8"><use href="#gr" x="448"/></g><g id="n61-9"><use href="#gr" x="500"/></g></g>
<g id="r62" transform="translate(0 3233.5)"><g id="n62-1"><use href="#gl" x="84"/></g><g id="n62-2"><use href="#gl" x="136"/></g><g id="n62-3"><use href="#gl" x="188"/></g><g id="n62-4"><use href="#gl" x="240"/></g><g id="n62-5"><use href="#gl" x="292"/></g><g id="n62-6"><use href="#gl" x="344"/></g><g id="n62-7"><use href="#gl" x="396"/></g><g id="n62-8"><use href="#gl" x="448"/></g><g id="n62-9"><use href="#gl" x="500"/></g></g>
<g id="r63" transform="translate(0 3285.5)"><g id="n63-1"><use href="#gr" x="84"/></g><g id="n63-2"><use href="#gr" x="136"/></g><g id="n63-3"><use href="#gr" x="188"/></g><g id="n63-4"><use href="#gr" x="240"/></g><g id="n63-5"><use href="#gr" x="292"/></g><g id="n63-6"><use href="#gr" x="344"/></g><g id="n63-7"><use href="#gr" x="396"/></g><g id="n63-8"><use href="#gr" x="448"/></g><g id="n63-9"><use href="#gr" x="500"/></g></g>
<g id="r64" transform="translate(0 3337.5)"><g id="n64-1"><use href="#gl" x="84"/></g><g id="n64-2"><use href="#gl" x="136"/></g><g id="n64-3"><use href="#gl" x="188"/></g><g id="n64-4"><use href="#gl" x="240"/></g><g id="n64-5"><use href="#gl" x="292"/></g><g id="n64-6"><use href="#gl" x="344"/></g><g id="n64-7"><use href="#gl" x="396"/></g><g id="n64-8"><use href="#gl" x="448"/></g><g id="n64-9"><use href="#gl" x="500"/></g></g>
<g id="r65" transform="translate(0 3389.5)"><g id="n65-1"><use href="#gr" x="84"/></g><g id="n65-2"><use href="#gr" x="136"/></g><g id="n65-3"><use href="#gr" x="188"/></g><g id="n65-4"><use href="#gr" x="240"/></g><g id="n65-5"><use href="#gr" x="292"/></g><g id="n65-6"><use href="#gr" x="344"/></g><g id="n65-7"><use href="#gr" x="396"/></g><g id="n65-8"><use href="#gr" x="448"/></g><g id="n65-9"><use href="#gr" x="500"/></g></g>
<g id="r66" transform="translate(0 3441.5)"><g id="n66-1"><use href="#gl" x="84"/></g><g id="n66-2"><use href="#gl" x="136"/></g><g id="n66-3"><use href="#gl" x="188"/></g><g id="n66-4"><use href="#gl" x="240"/></g><g id="n66-5"><use href="#gl" x="292"/></g><g id="n66-6"><use href="#gl" x="344"/></g><g id="n66-7"><use href="#gl" x="396"/></g><g id="n66-8"><use href="#gl" x="448"/></g><g id="n66-9"><use href="#gl" x="500"/></g></g>
<g id="r67" transform="translate(0 3493.5)"><g id="n67-1"><use href="#gr" x="84"/></g><g id="n67-2"><use href="#gr" x="136"/></g><g id="n67-3"><use href="#gr" x="188"/></g><g id="n67-4"><use href="#gr" x="240"/></g><g id="n67-5"><use href="#gr" x="292"/></g><g id="n67-6"><use href="#gr" x="344"/></g><g id="n67-7"><use href="#gr" x="396"/></g><g id="n67-8"><use href="#gr" x="448"/></g><g id="n67-9"><use href="#gr" x="500"/></g></g>
<g id="r68" transform="translate(0 3545.5)"><g id="n68-1"><use href="#gl" x="84"/></g><g id="n68-2"><use href="#gl" x="136"/></g><g id="n68-3"><use href="#gl" x="188"/></g><g id="n68-4"><use href="#gl" x="240"/></g><g id="n68-5"><use href="#gl" x="292"/></g><g id="n68-6"><use href="#gl" x="344"/></g><g id="n68-7"><use href="#gl" x="396"/></g><g id="n68-8"><use href="#gl" x="448"/></g><g id="n68-9"><use href="#gl" x="500"/></g></g>
<g id="r69" transform="translate(0 3597.5)"><g id="n69-1"><use href="#gr" x="84"/></g><g id="n69-2"><use href="#gr" x="136"/></g><g id="n69-3"><use href="#gr" x="188"/></g><g id="n69-4"><use href="#gr" x="240"/></g><g id="n69-5"><use href="#gr" x="292"/></g><g id="n69-6"><use href="#gr" x="344"/></g><g id="n69-7"><use href="#gr" x="396"/></g><g id="n69-8"><use href="#gr" x="448"/></g><g id="n69-9"><use href="#gr" x="500"/></g></g>
<g id="r70" transform="translate(0 3649.5)"><g id="n70-1"><use href="#gl" x="84"/></g><g id="n70-2"><use href="#gl" x="136"/></g><g id="n70-3"><use href="#gl" x="188"/></g><g id="n70-4"><use href="#gl" x="240"/></g><g id="n70-5"><use href="#gl" x="292"/></g><g id="n70-6"><use href="#gl" x="344"/></g><g id="n70-7"><use href="#gl" x="396"/></g><g id="n70-8"><use href="#gl" x="448"/></g><g id="n70-9"><use href="#gl" x="500"/></g></g>
<g id="r71" transform="translate(0 3701.5)"><g id="n71-1"><use href="#gr" x="84"/></g><g id="n71-2"><use href="#gr" x="136"/></g><g id="n71-3"><use href="#gr" x="188"/></g><g id="n71-4"><use href="#gr" x="240"/></g><g id="n71-5"><use href="#gr" x="292"/></g><g id="n71-6"><use href="#gr" x="344"/></g><g id="n71-7"><use href="#gr" x="396"/></g><g id="n71-8"><use href="#gr" x="448"/></g><g id="n71-9"><use href="#gr" x="500"/></g></g>
<g id="r72" transform="translate(0 3753.5)"><g id="n72-1"><use href="#gl" x="84"/></g><g id="n72-2"><use href="#gl" x="136"/></g><g id="n72-3"><use href="#gl" x="188"/></g><g id="n72-4"><use href="#gl" x="240"/></g><g id="n72-5"><use href="#gl" x="292"/></g><g id="n72-6"><use href="#gl" x="344"/></g><g id="n72-7"><use href="#gl" x="396"/></g><g id="n72-8"><use href="#gl" x="448"/></g><g id="n72-9"><use href="#gl" x="500"/></g></g>
</g>
<g id="row-labels">
<path class="ll" d="M26,113.5H66M26,165.5H66M26,217.5H66M26,269.5H66M26,321.5H66M26,373.5H66M26,425.5H66M26,477.5H66M26,529.5H66M26,581.5H66M26,633.5H66M26,685.5H66M26,737.5H66M26,789.5H66M26,841.5H66M26,945.5H66M26,997.5H66M26,1049.5H66M26,1101.5H66M26,1153.5H66M26,1205.5H66M26,1257.5H66M26,1309.5H66M26,1361.5H66M26,1413.5H66M26,1465.5H66M26,1517.5H66M26,1569.5H66M26,1621.5H66M26,1673.5H66M26,1725.5H66M26,1777.5H66M26,1829.5H66M26,1881.5H66M26,1933.5H66M26,1985.5H66M26,2037.5H66M26,2089.5H66M26,2141.5H66M26,2193.5H66M26,2245.5H66M26,2297.5H66M26,2349.5H66M26,2401.5H66M26,2453.5H66M26,2505.5H66M26,2609.5H66M26,2661.5H66M26,2713.5H66M26,2765.5H66M26,2817.5H66M26,2869.5H66M26,2973.5H66M26,3025.5H66M26,3077.5H66M26,3129.5H66M26,3181.5H66M26,3233.5H66M26,3285.5H66M26,3337.5H66M26,3389.5H66M26,3441.5H66M26,3493.5H66M26,3545.5H66M26,3597.5H66M26,3649.5H66M26,3701.5H66"/>
<path class="ll" d="M518,61.5H558M518,113.5H558M518,165.5H558M518,217.5H558M518,269.5H558M518,321.5H558M518,373.5H558M518,425.5H558M518,477.5H558M518,529.5H558M518,581.5H558M518,633.5H558M518,685.5H558M518,737.5H558M518,789.5H558M518,841.5H558M518,893.5H558M518,945.5H558M518,997.5H558M518,1049.5H558M518,1101.5H558M518,1153.5H558M518,1205.5H558M518,1257.5H558M518,1309.5H558M518,1361.5H558M518,1413.5H558M518,1465.5H558M518,1517.5H558M518,1569.5H558M518,1621.5H558M518,1673.5H558M518,1725.5H558M518,1777.5H558M518,1829.5H558M518,1881.5H558M518,1933.5H558M518,1985.5H558M518,2037.5H558M518,2089.5H558M518,2141.5H558M518,2193.5H558M518,2245.5H558M518,2297.5H558M518,2349.5H558M518,2401.5H558M518,2453.5H558M518,2505.5H558M518,2557.5H558M518,2609.5H558M518,2713.5H558M518,2765.5H558M518,2817.5H558M518,2869.5H558M518,2921.5H558M518,2973.5H558M518,3025.5H558M518,3077.5H558M518,3129.5H558M518,3181.5H558M518,3233.5H558M518,3285.5H558M518,3337.5H558M518,3389.5H558M518,3441.5H558M518,3493.5H558M518,3545.5H558M518,3597.5H558M518,3649.5H558M518,3701.5H558M518,3753.5H558"/>
<g class="lbl le">
<text x="21" y="66">1</text><text x="21" y="118">2</text><text x="21" y="170">3</text><text x="21" y="222">4</text><text x="21" y="274">5</text><text x="21" y="326">6</text><text x="21" y="378">7</text><text x="21" y="430">8</text><text x="21" y="482">9</text><text x="21" y="534">10</text><text x="21" y="586">11</text><text x="21" y="638">12</text><text x="21" y="690">13</text><text x="21" y="742">14</text><text x="21" y="794">15</text><text x="21" y="846">16</text><text x="21" y="898">17</text><text x="21" y="950">18</text><text x="21" y="1002">19</text><text x="21" y="1054">20</text><text x="21" y="1106">21</text><text x="21" y="1158">22</text><text x="21" y="1210">23</text><text x="21" y="1262">24</text><text x="21" y="1314">25</text><text x="21" y="1366">26</text><text x="21" y="1418">27</text><text x="21" y="1470">28</text><text x="21" y="1522">29</text><text x="21" y="1574">30</text><text x="21" y="1626">31</text><text x="21" y="1678">32</text><text x="21" y="1730">33</text><text x="21" y="1782">34</text><text x="21" y="1834">35</text><text x="21" y="1886">36</text><text x="21" y="1938">37</text><text x="21" y="1990">38</text><text x="21" y="2042">39</text><text x="21" y="2094">40</text><text x="21" y="2146">41</text><text x="21" y="2198">42</text><text x="21" y="2250">43</text><text x="21" y="2302">44</text><text x="21" y="2354">45</text><text x="21" y="2406">46</text><text x="21" y="2458">47</text><text x="21" y="2510">48</text><text x="21" y="2562">49</text><text x="21" y="2614">50</text><text x="21" y="2666">51</text><text x="21" y="2718">52</text><text x="21" y="2770">53</text><text x="21" y="2822">54</text><text x="21" y="2874">55</text><text x="21" y="2926">56</text><text x="21" y="2978">57</text><text x="21" y="3030">58</text><text x="21" y="3082">59</text><text x="21" y="3134">60</text><text x="21" y="3186">61</text><text x="21" y="3238">62</text><text x="21" y="3290">63</text><text x="21" y="3342">64</text><text x="21" y="3394">65</text><text x="21" y="3446">66</text><text x="21" y="3498">67</text><text x="21" y="3550">68</text><text x="21" y="3602">69</text><text x="21" y="3654">70</text><text x="21" y="3706">71</text><text x="21" y="3758">72</text>
</g>
<g class="lbl">
<text x="562" y="66">1</text><text x="562" y="118">2</text><text x="562" y="170">3</text><text x="562" y="222">4</text><text x="562" y="274">5</text><text x="562" y="326">6</text><text x="562" y="378">7</text><text x="562" y="430">8</text><text x="562" y="482">9</text><text x="562" y="534">10</text><text x="562" y="586">11</text><text x="562" y="638">12</text><text x="562" y="690">13</text><text x="562" y="742">14</text><text x="562" y="794">15</text><text x="562" y="846">16</text><text x="562" y="898">17</text><text x="562" y="950">18</text><text x="562" y="1002">19</text><text x="562" y="1054">20</text><text x="562" y="1106">21</text><text x="562" y="1158">22</text><text x="562" y="1210">23</text><text x="562" y="1262">24</text><text x="562" y="1314">25</text><text x="562" y="1366">26</text><text x="562" y="1418">27</text><text x="562" y="1470">28</text><text x="562" y="1522">29</text><text x="562" y="1574">30</text><text x="562" y="1626">31</text><text x="562" y="1678">32</text><text x="562" y="1730">33</text><text x="562" y="1782">34</text><text x="562" y="1834">35</text><text x="562" y="1886">36</text><text x="562" y="1938">37</text><text x="562" y="1990">38</text><text x="562" y="2042">39</text><text x="562" y="2094">40</text><text x="562" y="2146">41</text><text x="562" y="2198">42</text><text x="562" y="2250">43</text><text x="562" y="2302">44</text><text x="562" y="2354">45</text><text x="562" y="2406">46</text><text x="562" y="2458">47</text><text x="562" y="2510">48</text><text x="562" y="2562">49</text><text x="562" y="2614">50</text><text x="562" y="2666">51</text><text x="562" y="2718">52</text><text x="562" y="2770">53</text><text x="562" y="2822">54</text><text x="562" y="2874">55</text><text x="562" y="2926">56</text><text x="562" y="2978">57</text><text x="562" y="3030">58</text><text x="562" y="3082">59</text><text x="562" y="3134">60</text><text x="562" y="3186">61</text><text x="562" y="3238">62</text><text x="562" y="3290">63</text><text x="562" y="3342">64</text><text x="562" y="3394">65</text><text x="562" y="3446">66</text><text x="562" y="3498">67</text><text x="562" y="3550">68</text><text x="562" y="3602">69</text><text x="562" y="3654">70</text><text x="562" y="3706">71</text><text x="562" y="3758">72</text>
</g>
</g>
<text class="wm" x="292" y="1913">BRACELETBOOK.COM</text>
</svg>
